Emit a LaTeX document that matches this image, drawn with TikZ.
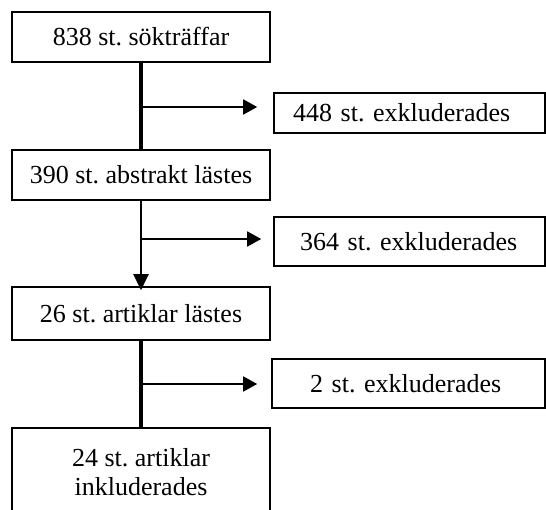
\documentclass[tikz,border=0pt]{standalone}
\usepackage{fontspec}
\setmainfont{Liberation Serif}
\usetikzlibrary{arrows.meta}
\frenchspacing
\begin{document}
\begin{tikzpicture}[x=1pt,y=-1pt,
  box/.style={draw, line width=1.6pt, rectangle, inner sep=0pt, font=\fontsize{26}{29}\selectfont\frenchspacing},
  thickline/.style={line width=3.3pt},
  arr/.style={line width=1.7pt, -{Triangle[length=14pt,width=15pt]}},
  varr/.style={line width=2pt, -{Triangle[length=16pt,width=15pt]}}]
\useasboundingbox (0,0) rectangle (546,510);
\node[box, minimum width=258pt, minimum height=50pt] (b1) at (141,37) {838 st. sökträffar};
\node[box, minimum width=258pt, minimum height=50pt] (b2) at (141,175) {390 st. abstrakt lästes};
\node[box, minimum width=258pt, minimum height=53pt] (b3) at (141,313.5) {26 st. artiklar lästes};
\node[box, minimum width=258pt, minimum height=89pt, align=center] (b4) at (141,472.5) {24 st. artiklar\\inkluderades};
\node[box, text width=271pt, minimum height=40pt] (e1) at (409.5,113) {\hspace*{19pt}448 st. exkluderades};
\node[box, text width=271pt, minimum height=49pt] (e2) at (409.5,241.5) {\hspace*{26pt}364 st. exkluderades};
\node[box, text width=273pt, minimum height=49pt] (e3) at (408.5,383.5) {\hspace*{38pt}2 st. exkluderades};
\coordinate (j1) at (140,107);
\coordinate (j2) at (140,239);
\coordinate (j3) at (140,384);
\draw[thickline] (b1.south) -- (b2.north);
\draw[varr] (b2.south) -- ([yshift=-4pt]b3.north);
\draw[thickline] (b3.south) -- (b4.north);
\draw[arr, shorten >=16pt] (j1) -- (j1 -| e1.west);
\draw[arr, shorten >=12pt] (j2) -- (j2 -| e2.west);
\draw[arr, shorten >=14pt] (j3) -- (j3 -| e3.west);
\end{tikzpicture}
\end{document}
